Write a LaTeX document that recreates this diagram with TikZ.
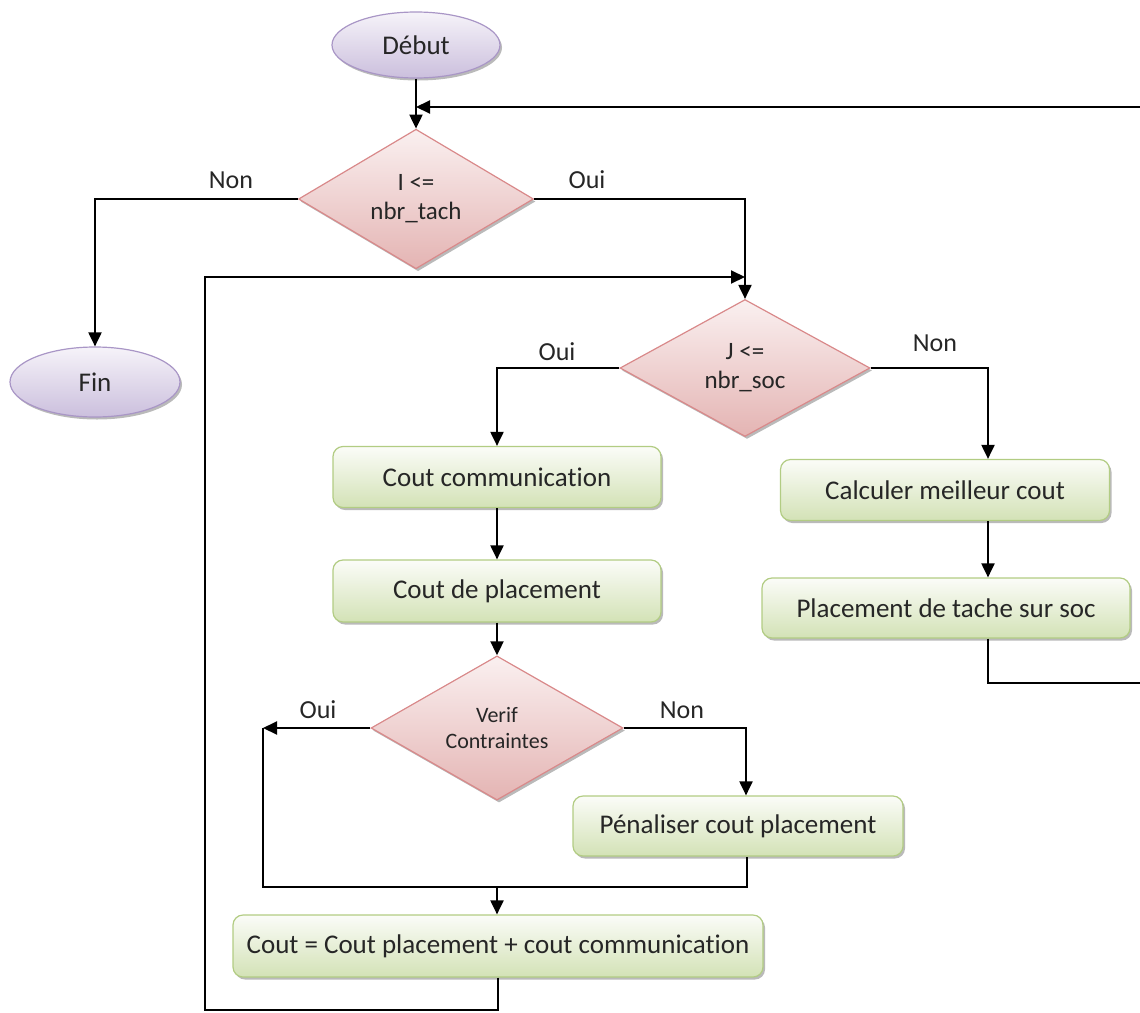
\documentclass[tikz,border=0pt]{standalone}
\usepackage{fontspec}
\setmainfont{Carlito}[RawFeature={-liga;-clig;-calt;-dlig}]
\usetikzlibrary{shapes.geometric,arrows.meta,shadows}

\definecolor{boxtop}{HTML}{FBFCF8}
\definecolor{boxbot}{HTML}{D3E2B6}
\definecolor{boxline}{HTML}{B2CC83}
\definecolor{dtop}{HTML}{FAF0F0}
\definecolor{dbot}{HTML}{E4B4B3}
\definecolor{dline}{HTML}{D9898A}
\definecolor{etop}{HTML}{F6F3F9}
\definecolor{ebot}{HTML}{CBBFDD}
\definecolor{eline}{HTML}{A996C6}

\tikzset{
  base/.style={font=\fontsize{27}{31}\selectfont, text=black!85, align=center,
    inner sep=0pt, line width=1.2pt},
  shadowed/.style={drop shadow={shadow xshift=2pt, shadow yshift=-2.5pt,
    fill=black!45, opacity=.6}},
  procbox/.style={base, shadowed, rectangle, rounded corners=10pt,
    draw=boxline, top color=boxtop, bottom color=boxbot},
  decision/.style={base, shadowed, diamond, draw=dline,
    top color=dtop, bottom color=dbot, font=\fontsize{25}{29}\selectfont},
  terminal/.style={base, shadowed, ellipse, draw=eline,
    top color=etop, bottom color=ebot},
  conn/.style={line width=2pt, black},
  arr/.style={conn, -{Triangle[length=14pt,width=13pt]}},
  lbl/.style={font=\fontsize{26}{30}\selectfont, text=black!85, inner sep=0pt}
}

\begin{document}
\begin{tikzpicture}[x=1pt,y=-1pt]
\useasboundingbox (0,0) rectangle (1140,1012);

% terminals
\node[terminal, minimum width=168pt, minimum height=66pt] (debut) at (416,45) {Début};
\node[terminal, minimum width=170pt, minimum height=70pt] (fin) at (95,382) {Fin};

% decisions
\node[decision, minimum width=235pt, minimum height=122pt] (d1) at (416,199) {I <=\\nbr\_tach};
\node[decision, minimum width=250pt, minimum height=137pt] (d2) at (745,368) {J <=\\nbr\_soc};
\node[decision, minimum width=252pt, minimum height=136pt,
      font=\fontsize{22}{26}\selectfont] (verif) at (497,728) {Verif\\Contraintes};

% process boxes
\node[procbox, minimum width=328pt, minimum height=61pt] (cc) at (497,477) {Cout communication};
\node[procbox, minimum width=328pt, minimum height=62pt] (cp) at (497,591) {Cout de placement};
\node[procbox, minimum width=330pt, minimum height=60pt] (pen) at (738,826) {Pénaliser cout placement};
\node[procbox, minimum width=530pt, minimum height=62pt] (cout) at (498,946) {Cout = Cout placement + cout communication};
\node[procbox, minimum width=329pt, minimum height=61pt] (calc) at (945,490) {Calculer meilleur cout};
\node[procbox, minimum width=368pt, minimum height=60pt] (place) at (946,608) {Placement de tache sur soc};

% branch labels
\node[lbl] (l1) at (231,180) {Non};
\node[lbl] (l2) at (587,180) {Oui};
\node[lbl] (l3) at (557,352) {Oui};
\node[lbl] (l4) at (935,343) {Non};
\node[lbl] (l5) at (318,710) {Oui};
\node[lbl] (l6) at (682,710) {Non};

% routing points
\coordinate (m1) at (416,107);
\coordinate (rt) at (1140,107);
\coordinate (lb) at (205,1010);
\coordinate (lt) at (205,277);
\coordinate (lj) at (745,277);
\coordinate (cx) at (988,0);
\coordinate (rb) at (1140,683);
\coordinate (ol) at (263,728);
\coordinate (jn) at (497,887);
\coordinate (jr) at (747,887);
\coordinate (px) at (746,0);

% outer loop over I
\draw[arr] (debut) -- (d1);
\draw[arr] (rt) -- (m1);
\draw[arr] (d1.west) -| (fin.north);
\draw[arr] (d1.east) -| (d2.north);

% inner loop over J
\draw[arr] (cout.south) -- (cout.south |- lb) -- (lb) -- (lt) -- (lj);
\draw[arr] (d2.west) -| (cc.north);
\draw[arr] (d2.east) -| (cx |- calc.north);
\draw[arr] (cx |- calc.south) -- (cx |- place.north);
\draw[conn] (cx |- place.south) |- (rb);

% cost chain
\draw[arr] (cc) -- (cp);
\draw[arr] (cp.south) -- (verif.north);
\draw[arr] (verif.west) -- (ol);
\draw[arr] (verif.east) -| (px |- pen.north);
\draw[conn] (ol) |- (jr) -- (jr |- pen.south);
\draw[arr] (jn) -- (jn |- cout.north);
\end{tikzpicture}
\end{document}
